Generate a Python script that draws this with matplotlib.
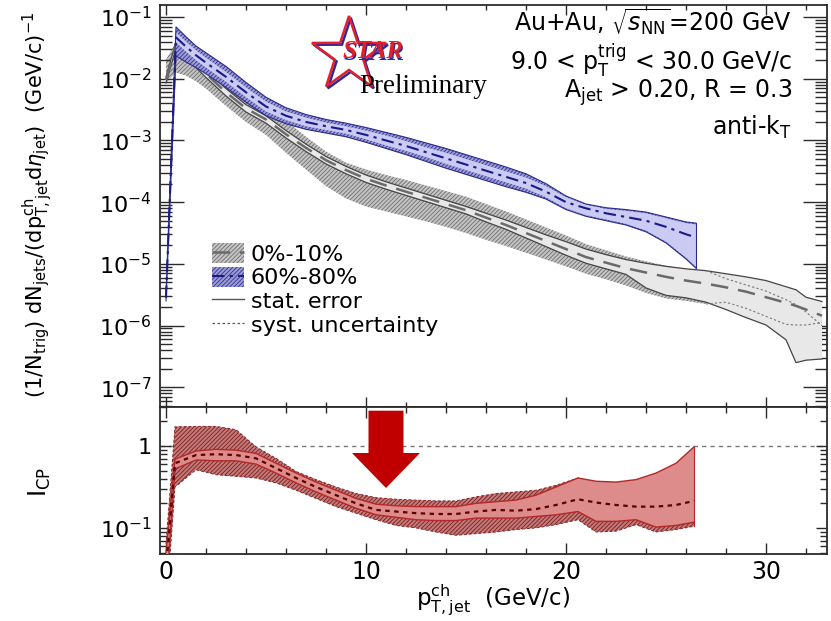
import numpy as np
import matplotlib.pyplot as plt
import matplotlib.transforms as mtransforms
from matplotlib.patches import Patch, Polygon, FancyArrow
from matplotlib.lines import Line2D
from matplotlib.ticker import LogLocator, MultipleLocator, NullFormatter, FixedLocator, FuncFormatter

plt.rcParams['font.family'] = ['DejaVu Sans']
plt.rcParams['mathtext.fontset'] = 'dejavusans'
plt.rcParams['hatch.linewidth'] = 0.6

W, H = 831, 621

# ---------------- 0%-10% (values read as log10 of the yield) ----------------
gray_x = [0, 0.5, 1, 1.5, 2, 3, 4, 5, 6, 7, 8, 9, 10, 11, 12, 13, 14, 15, 16, 17,
          18, 19, 20, 21, 22, 23, 24, 25, 26, 27, 28, 29, 30, 31, 31.5, 32, 32.8]
gray_log = [-2.02, -1.45, -1.60, -1.76, -1.92, -2.22, -2.48, -2.66, -2.90, -3.12,
            -3.32, -3.48, -3.62, -3.73, -3.83, -3.93, -4.03, -4.13, -4.25, -4.37,
            -4.50, -4.63, -4.76, -4.89, -4.98, -5.07, -5.14, -5.21, -5.27, -5.32,
            -5.38, -5.45, -5.54, -5.63, -5.68, -5.74, -5.84]
gray_stat_up = [0.05, 0.05, 0.06, 0.06, 0.06, 0.06, 0.06, 0.06, 0.06, 0.06, 0.06, 0.06,
                0.06, 0.06, 0.06, 0.06, 0.06, 0.06, 0.07, 0.08, 0.09, 0.10, 0.12, 0.13,
                0.13, 0.14, 0.15, 0.17, 0.19, 0.21, 0.22, 0.24, 0.27, 0.26, 0.26, 0.20, 0.23]
gray_stat_dn = [0.05, 0.05, 0.06, 0.06, 0.06, 0.06, 0.06, 0.06, 0.06, 0.06, 0.06, 0.06,
                0.06, 0.06, 0.06, 0.06, 0.06, 0.06, 0.07, 0.07, 0.08, 0.09, 0.10, 0.10,
                0.10, 0.10, 0.25, 0.30, 0.28, 0.30, 0.36, 0.42, 0.45, 0.60, 0.92, 0.82, 0.70]
gray_sys_up = [0.33, 0.05, 0.10, 0.12, 0.16, 0.22, 0.26, 0.26, 0.22, 0.18, 0.14, 0.12,
               0.15, 0.17, 0.19, 0.20, 0.21, 0.22, 0.22, 0.22, 0.22, 0.22, 0.22, 0.21,
               0.20, 0.19, 0.18, 0.18, 0.19, 0.21, 0.14, 0.11, 0.10, 0.05, 0.02, -0.04, -0.16]
gray_sys_dn = [0.05, 0.45, 0.35, 0.28, 0.24, 0.22, 0.22, 0.25, 0.30, 0.35, 0.42, 0.46,
               0.45, 0.42, 0.40, 0.38, 0.37, 0.37, 0.36, 0.34, 0.32, 0.30, 0.28, 0.27,
               0.27, 0.28, 0.33, 0.35, 0.33, 0.33, 0.24, 0.27, 0.31, 0.35, 0.31, 0.25, 0.11]
gray_sys_band_end = 27  # hatched syst. band drawn up to here, dotted lines beyond

# ---------------- 60%-80% ----------------
blue_x = [0, 0.5, 1, 1.5, 2, 3, 4, 5, 6, 7, 8, 9, 10, 11, 12, 13, 14, 15, 16, 17,
          18, 19, 20, 21, 22, 23, 24, 25, 26, 26.5]
blue_log = [-5.55, -1.33, -1.48, -1.62, -1.74, -1.97, -2.22, -2.45, -2.60, -2.70,
            -2.77, -2.83, -2.91, -3.00, -3.09, -3.19, -3.29, -3.39, -3.49, -3.59,
            -3.69, -3.83, -4.00, -4.10, -4.18, -4.24, -4.30, -4.40, -4.52, -4.57]
blue_sys_up = [0.05, 0.17, 0.16, 0.15, 0.16, 0.17, 0.16, 0.15, 0.13, 0.12, 0.11, 0.11,
               0.12, 0.13, 0.14, 0.15, 0.16, 0.16, 0.16, 0.16, 0.15, 0.13, 0.10, 0.07,
               0.09, 0.12, 0.14, 0.16, 0.20, 0.23]
blue_sys_dn = [0.05, 0.30, 0.25, 0.20, 0.18, 0.17, 0.16, 0.15, 0.13, 0.12, 0.11, 0.11,
               0.12, 0.13, 0.14, 0.15, 0.16, 0.16, 0.16, 0.16, 0.15, 0.12, 0.12, 0.13,
               0.12, 0.13, 0.18, 0.26, 0.40, 0.50]
blue_stat_up = [0.03, 0.08, 0.08, 0.08, 0.08, 0.08, 0.08, 0.08, 0.07, 0.07, 0.06, 0.06,
                0.07, 0.08, 0.08, 0.08, 0.09, 0.09, 0.09, 0.09, 0.09, 0.09, 0.08, 0.06,
                0.07, 0.10, 0.12, 0.14, 0.18, 0.21]
blue_stat_dn = [0.03, 0.08, 0.08, 0.08, 0.08, 0.08, 0.08, 0.08, 0.07, 0.07, 0.06, 0.06,
                0.07, 0.08, 0.08, 0.08, 0.09, 0.09, 0.09, 0.09, 0.09, 0.09, 0.10, 0.11,
                0.10, 0.11, 0.16, 0.24, 0.38, 0.48]

# ---------------- I_CP (log10) ----------------
icp_x = [0, 0.45, 1.5, 2.5, 3.5, 4.5, 5.5, 6.5, 7.5, 8.5, 9.5, 10.5, 11.5, 12.5, 13.5,
         14.5, 15.5, 16.5, 17.5, 18.5, 19.5, 20.6, 21.5, 22.5, 23.5, 24.5, 25.5, 26.4]
icp_log = [-1.50, -0.21, -0.11, -0.10, -0.11, -0.15, -0.27, -0.39, -0.50, -0.60, -0.70,
           -0.78, -0.80, -0.82, -0.83, -0.83, -0.80, -0.78, -0.79, -0.77, -0.72, -0.65,
           -0.69, -0.72, -0.74, -0.74, -0.72, -0.67]
icp_stat_hi = [-1.30, -0.16, -0.06, -0.04, -0.05, -0.09, -0.21, -0.33, -0.44, -0.54, -0.64,
               -0.71, -0.73, -0.74, -0.74, -0.74, -0.70, -0.68, -0.66, -0.60, -0.50, -0.39,
               -0.43, -0.44, -0.41, -0.33, -0.21, -0.01]
icp_stat_lo = [-1.80, -0.28, -0.17, -0.18, -0.18, -0.22, -0.33, -0.45, -0.56, -0.66, -0.76,
               -0.84, -0.87, -0.90, -0.91, -0.91, -0.88, -0.88, -0.88, -0.86, -0.84, -0.80,
               -0.92, -0.92, -0.90, -0.99, -0.97, -0.93]
icp_sys_hi = [-1.20, 0.235, 0.24, 0.24, 0.20, -0.01, -0.15, -0.31, -0.41, -0.50, -0.58,
              -0.63, -0.65, -0.66, -0.67, -0.67, -0.62, -0.58, -0.56, -0.54, -0.48, -0.39,
              -0.46, -0.48, -0.48, -0.43, -0.38, -0.35]
icp_sys_lo = [-2.00, -0.50, -0.29, -0.35, -0.37, -0.39, -0.45, -0.54, -0.64, -0.74, -0.82,
              -0.90, -0.97, -1.00, -1.05, -1.09, -1.07, -1.05, -1.02, -1.00, -0.96, -0.90,
              -1.05, -1.04, -0.96, -1.05, -1.02, -0.98]

info_lines = [r'Au+Au, $\sqrt{s_{\rm NN}}$=200 GeV',
              r'9.0 < p$_{\rm T}^{\rm trig}$ < 30.0 GeV/c',
              r'A$_{\rm jet}$ > 0.20, R = 0.3',
              r'anti-k$_{\rm T}$']
legend_labels = ['0%-10%', '60%-80%', 'stat. error', 'syst. uncertainty']
spec_ticks = [1e-7, 1e-6, 1e-5, 1e-4, 1e-3, 1e-2, 1e-1]
icp_ticks = [0.1, 1]

HATCH = '////////'


def px(x, y):
    return x / W, 1 - y / H


def lin(a):
    return 10 ** np.asarray(a, dtype=float)


fig = plt.figure(figsize=(W / 100, H / 100), dpi=100)
ax1 = fig.add_axes([160 / W, 1 - 407 / H, 667 / W, 402 / H])
ax2 = fig.add_axes([160 / W, 1 - 554 / H, 667 / W, 147 / H], sharex=ax1)

# ---- top panel: spectra ----
gx = np.array(gray_x)
gc = np.array(gray_log)
m = gx <= gray_sys_band_end
ax1.fill_between(gx[m], lin(gc + gray_sys_up)[m], lin(gc - gray_sys_dn)[m],
                 facecolor='#c4c4c4', edgecolor='#6e6e6e', hatch=HATCH, linewidth=0, zorder=1)
ax1.fill_between(gx, lin(gc + gray_stat_up), lin(gc - gray_stat_dn),
                 facecolor='#e8e8e8', linewidth=0, zorder=2)
ax1.plot(gx, lin(gc + gray_stat_up), color='#454545', lw=0.9, zorder=3)
ax1.plot(gx, lin(gc - gray_stat_dn), color='#454545', lw=0.9, zorder=3)
mb = gx >= gray_sys_band_end
ax1.plot(gx[mb], lin(gc + gray_sys_up)[mb], color='#777777', lw=0.8, ls=(0, (2, 2)), zorder=3)
ax1.plot(gx[mb], lin(gc - gray_sys_dn)[mb], color='#777777', lw=0.8, ls=(0, (2, 2)), zorder=3)
ax1.plot(gx, lin(gc), color='#6a6a6a', lw=1.8, ls=(0, (7, 4)), zorder=4)

bx = np.array(blue_x)
bc = np.array(blue_log)
ax1.fill_between(bx, lin(bc + blue_sys_up), lin(bc - blue_sys_dn),
                 facecolor='#9c9cd6', edgecolor='#30308f', hatch=HATCH, linewidth=0, zorder=5)
ax1.fill_between(bx, lin(bc + blue_stat_up), lin(bc - blue_stat_dn),
                 facecolor='#cacaf2', linewidth=0, zorder=6)
ax1.plot(bx, lin(bc + blue_sys_up), color='#2c2c8c', lw=0.8, zorder=7)
ax1.plot(bx, lin(bc - blue_sys_dn), color='#2c2c8c', lw=0.8, zorder=7)
ax1.plot([bx[-1], bx[-1]], [lin(bc[-1] - blue_sys_dn[-1]), lin(bc[-1] + blue_sys_up[-1])],
         color='#2c2c8c', lw=0.8, zorder=7)
ax1.plot(bx, lin(bc), color='#1a1a8a', lw=1.5, ls=(0, (6, 2.5, 1.5, 2.5)), zorder=8)

ax1.set_yscale('log')
ax1.set_ylim(4.8e-8, 0.1566)
ax1.set_xlim(-0.3, 33.05)

# legend
h_gray = (Patch(facecolor='#c4c4c4', edgecolor='#6e6e6e', hatch=HATCH, linewidth=0),
          Line2D([], [], color='#6a6a6a', lw=1.8, ls=(0, (7, 4))))
h_blue = (Patch(facecolor='#9c9cd6', edgecolor='#30308f', hatch=HATCH, linewidth=0),
          Line2D([], [], color='#1a1a8a', lw=1.5, ls=(0, (6, 2.5, 1.5, 2.5))))
h_stat = Line2D([], [], color='#555555', lw=1.0)
h_sys = Line2D([], [], color='#555555', lw=0.9, ls=(0, (2, 2)))
ax1.legend([h_gray, h_blue, h_stat, h_sys], legend_labels, loc='upper left',
           bbox_to_anchor=((212 - 160) / 667, (407 - 243) / 402), frameon=False,
           fontsize=16, borderpad=0, borderaxespad=0, labelspacing=0.1,
           handlelength=1.45, handleheight=1.0, handletextpad=0.3)

# ---- bottom panel: I_CP ----
rx = np.array(icp_x)
ax2.axhline(1.0, color='#777777', lw=1.0, ls=(0, (3, 3)), zorder=0)
ax2.fill_between(rx, lin(icp_sys_hi), lin(icp_sys_lo), facecolor='#c27a7a',
                 edgecolor='#7c1c1c', hatch=HATCH, linewidth=0, zorder=1)
ax2.plot(rx, lin(icp_sys_hi), color='#8a2626', lw=0.7, ls=(0, (3, 2)), zorder=2)
ax2.plot(rx, lin(icp_sys_lo), color='#8a2626', lw=0.7, ls=(0, (3, 2)), zorder=2)
ax2.fill_between(rx, lin(icp_stat_hi), lin(icp_stat_lo), facecolor='#de8b8b',
                 linewidth=0, zorder=3)
ax2.plot(rx, lin(icp_stat_hi), color='#b42828', lw=1.0, zorder=4)
ax2.plot(rx, lin(icp_stat_lo), color='#b42828', lw=1.0, zorder=4)
ax2.plot([rx[-1], rx[-1]], [lin(icp_sys_lo[-1]), lin(icp_stat_hi[-1])], color='#b42828', lw=0.8, zorder=4)
ax2.plot(rx, lin(icp_log), color='#5a0000', lw=1.6, ls=(0, (2, 2)), zorder=5)
ax2.set_yscale('log')
ax2.set_ylim(0.048, 3.0)

# red arrow
tr = mtransforms.blended_transform_factory(ax2.transData, ax2.transAxes)
ax2.add_patch(FancyArrow(11.0, 0.975, 0, -(0.975 - 0.449), width=1.75, head_width=3.4,
                         head_length=0.238, length_includes_head=True, transform=tr,
                         color='#c00000', linewidth=0, zorder=10, clip_on=False))

# ---- axes styling ----
for ax in (ax1, ax2):
    for s in ax.spines.values():
        s.set_linewidth(1.3)
        s.set_color('#2a2a2a')
    ax.xaxis.set_major_locator(MultipleLocator(10))
    ax.xaxis.set_minor_locator(MultipleLocator(2))
    ax.yaxis.set_minor_locator(LogLocator(base=10, subs=np.arange(2, 10)))
    ax.yaxis.set_minor_formatter(NullFormatter())
    ax.tick_params(which='both', direction='in', top=True, right=True, colors='#2a2a2a',
                   width=1.0, labelcolor='black')
ax1.yaxis.set_major_locator(FixedLocator(spec_ticks))
ax2.yaxis.set_major_locator(FixedLocator(icp_ticks))
ax2.yaxis.set_major_formatter(FuncFormatter(
    lambda v, pos: '1' if v >= 1 else r'$\mathdefault{10^{%d}}$' % round(np.log10(v))))
ax1.tick_params(axis='y', which='major', length=17, labelsize=16, pad=6)
ax1.tick_params(axis='y', which='minor', length=8.5)
ax1.tick_params(axis='x', which='major', length=7, labelbottom=False)
ax1.tick_params(axis='x', which='minor', length=3.5)
ax2.tick_params(axis='y', which='major', length=8, labelsize=16, pad=6)
ax2.tick_params(axis='y', which='minor', length=5)
ax2.tick_params(axis='x', which='major', length=8, labelsize=17, pad=4)
ax2.tick_params(axis='x', which='minor', length=4)

# ---- texts ----
for line, yy in zip(info_lines, [22, 60, 93, 127]):
    fig.text(*px(792, yy), line, ha='right', va='center', fontsize=17)

fig.text(*px(38, 205),
         r'(1/N$_{\rm trig}$) dN$_{\rm jets}$/(dp$_{\rm T,jet}^{\rm ch}$d$\eta_{\rm jet}$)  (GeV/c)$^{-1}$',
         rotation=90, ha='center', va='center', fontsize=15)
fig.text(*px(40, 482), r'I$_{\rm CP}$', rotation=90, ha='center', va='center', fontsize=17)
fig.text(*px(493, 600), r'p$_{\rm T,jet}^{\rm ch}$  (GeV/c)', ha='center', va='center', fontsize=16.5)

# STAR logo
ang = np.deg2rad(90 + 36 * np.arange(10))
rad = np.where(np.arange(10) % 2 == 0, 39, 15)
sx = 349 + rad * np.cos(ang)
sy = 55 - rad * np.sin(ang)
for dx, dy, col in ((1.8, 1.8, '#2a2aa0'), (0, 0, '#e0202a')):
    pts = [px(a + dx, b + dy) for a, b in zip(sx, sy)]
    fig.add_artist(Polygon(pts, closed=True, fill=False, edgecolor=col, lw=1.8,
                           transform=fig.transFigure))
fig.text(*px(374, 53), 'STAR', ha='center', va='center', fontsize=18, color='#2a2aa0',
         family='Liberation Serif', style='italic', weight='bold')
fig.text(*px(373, 52), 'STAR', ha='center', va='center', fontsize=18, color='#e0202a',
         family='Liberation Serif', style='italic', weight='bold')
fig.text(*px(423, 93), 'Preliminary', ha='center', va='baseline', fontsize=19.5,
         family='Liberation Serif', color='black')

fig.savefig('out.png', dpi=100)
